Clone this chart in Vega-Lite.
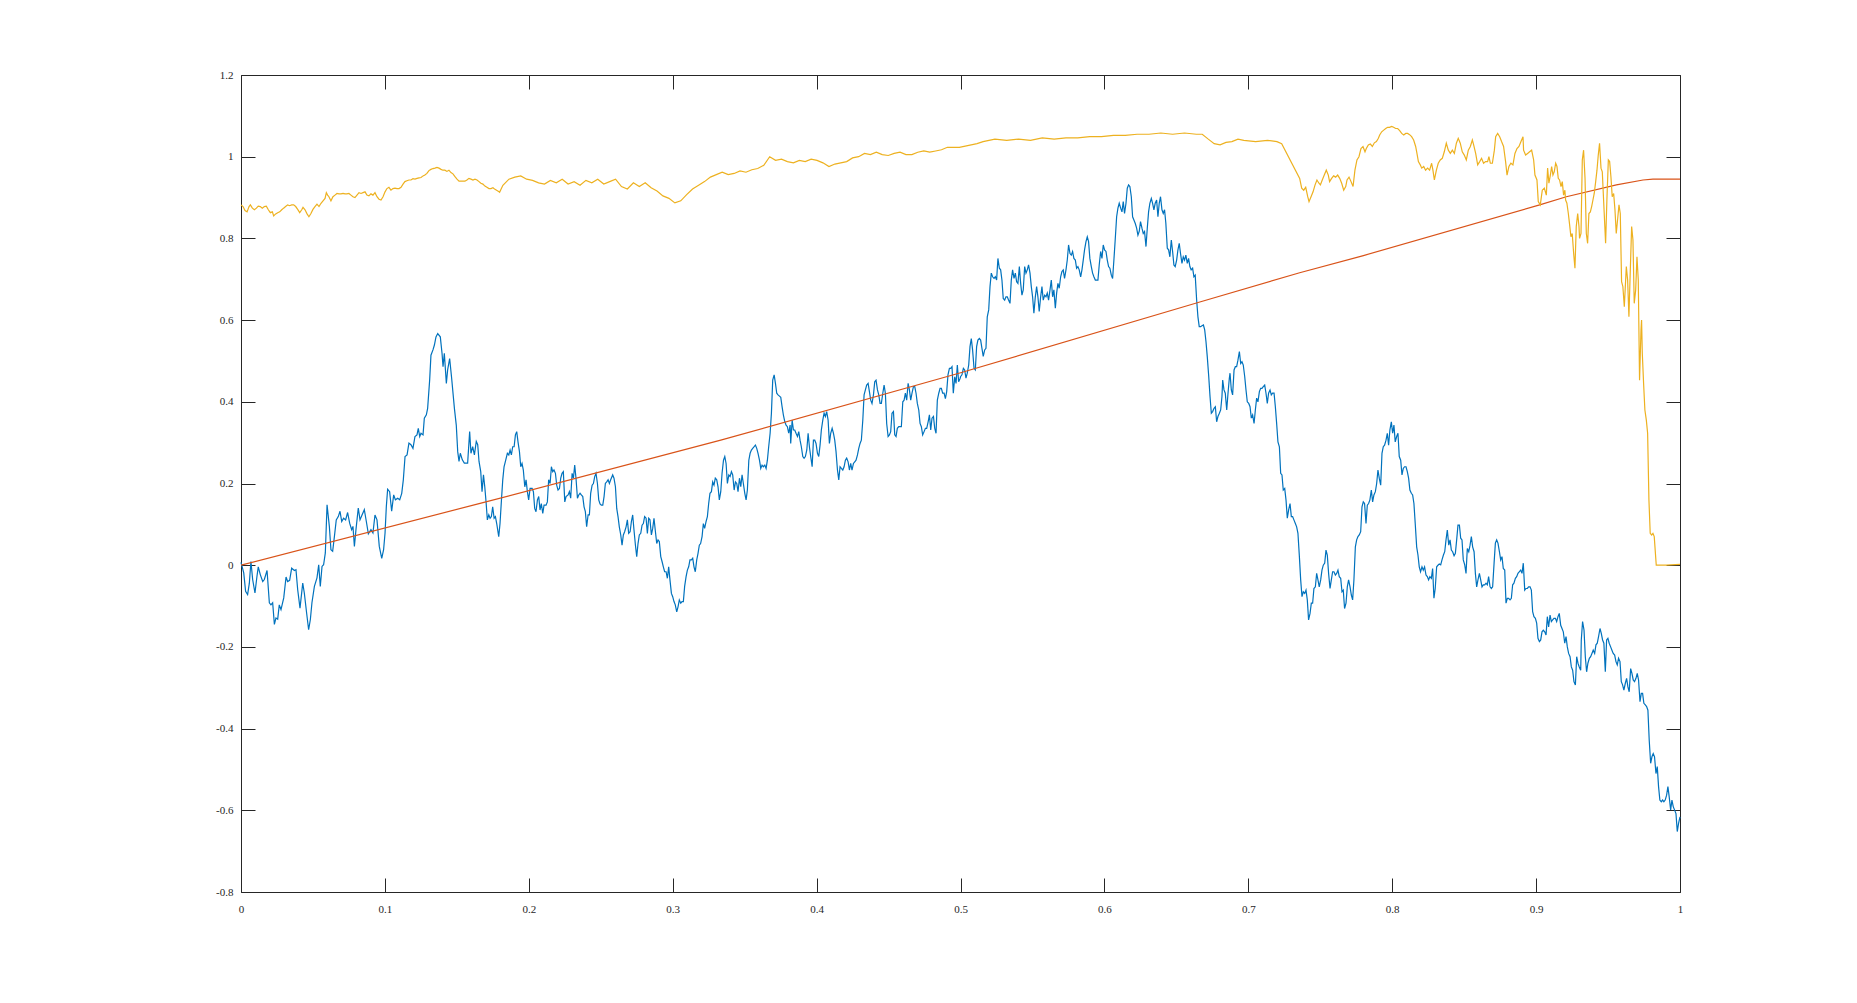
{
"$schema": "https://vega.github.io/schema/vega-lite/v6.json",
"width": 1439, "height": 817,
"autosize": {"type": "none"},
"padding": {"left": 241, "top": 75, "right": 177, "bottom": 111},
"background": "white",
"config": {"view": {"stroke": null},
 "axis": {"grid": false, "title": null, "domainColor": "#262626", "domainWidth": 1, "tickColor": "#262626", "tickWidth": 1, "tickSize": -14, "labelColor": "#262626", "labelFont": "Liberation Serif", "labelFontSize": 11, "labelFlush": false, "labelExpr": "'' + datum.value"}},
"datasets": {
"w": [
{"t":0,"v":0.007},{"t":0.0019,"v":-0.019},{"t":0.0032,"v":-0.064},{"t":0.0046,"v":-0.072},{"t":0.0058,"v":-0.044},{"t":0.0069,"v":0.009},{"t":0.0081,"v":-0.035},{"t":0.0097,"v":-0.068},{"t":0.0111,"v":-0.027},{"t":0.012,"v":-0.004},{"t":0.0134,"v":-0.023},{"t":0.0151,"v":-0.04},{"t":0.0162,"v":-0.035},{"t":0.0181,"v":-0.013},{"t":0.0197,"v":-0.092},{"t":0.0208,"v":-0.097},{"t":0.022,"v":-0.092},{"t":0.0232,"v":-0.145},{"t":0.0243,"v":-0.129},{"t":0.0255,"v":-0.132},{"t":0.0266,"v":-0.097},{"t":0.0278,"v":-0.109},{"t":0.0297,"v":-0.08},{"t":0.0313,"v":-0.029},{"t":0.0324,"v":-0.04},{"t":0.0338,"v":-0.037},{"t":0.0352,"v":-0.007},{"t":0.0371,"v":-0.013},{"t":0.0382,"v":-0.011},{"t":0.0394,"v":-0.06},{"t":0.041,"v":-0.105},{"t":0.0429,"v":-0.044},{"t":0.044,"v":-0.068},{"t":0.0456,"v":-0.117},{"t":0.047,"v":-0.158},{"t":0.0482,"v":-0.133},{"t":0.0493,"v":-0.092},{"t":0.051,"v":-0.052},{"t":0.0528,"v":-0.031},{"t":0.054,"v":0.001},{"t":0.0551,"v":-0.052},{"t":0.0563,"v":-0.003},{"t":0.0574,"v":0.001},{"t":0.0586,"v":0.03},{"t":0.0598,"v":0.148},{"t":0.0614,"v":0.095},{"t":0.0625,"v":0.038},{"t":0.0637,"v":0.034},{"t":0.0649,"v":0.07},{"t":0.0662,"v":0.111},{"t":0.0676,"v":0.119},{"t":0.0688,"v":0.132},{"t":0.07,"v":0.107},{"t":0.0713,"v":0.115},{"t":0.0727,"v":0.111},{"t":0.0741,"v":0.129},{"t":0.0755,"v":0.103},{"t":0.0769,"v":0.087},{"t":0.0778,"v":0.095},{"t":0.0788,"v":0.046},{"t":0.0799,"v":0.087},{"t":0.0815,"v":0.14},{"t":0.0827,"v":0.111},{"t":0.0841,"v":0.123},{"t":0.0857,"v":0.136},{"t":0.0871,"v":0.107},{"t":0.0885,"v":0.077},{"t":0.0903,"v":0.087},{"t":0.0917,"v":0.079},{"t":0.0931,"v":0.123},{"t":0.0945,"v":0.111},{"t":0.0961,"v":0.046},{"t":0.0978,"v":0.017},{"t":0.0991,"v":0.038},{"t":0.1001,"v":0.079},{"t":0.101,"v":0.144},{"t":0.1019,"v":0.186},{"t":0.1033,"v":0.18},{"t":0.1047,"v":0.132},{"t":0.1061,"v":0.172},{"t":0.1073,"v":0.16},{"t":0.1089,"v":0.164},{"t":0.1103,"v":0.16},{"t":0.1117,"v":0.176},{"t":0.1128,"v":0.209},{"t":0.114,"v":0.266},{"t":0.1154,"v":0.27},{"t":0.1167,"v":0.299},{"t":0.1181,"v":0.295},{"t":0.1195,"v":0.286},{"t":0.1209,"v":0.315},{"t":0.1223,"v":0.319},{"t":0.1232,"v":0.335},{"t":0.1242,"v":0.315},{"t":0.1251,"v":0.323},{"t":0.1265,"v":0.319},{"t":0.1274,"v":0.36},{"t":0.1288,"v":0.368},{"t":0.1297,"v":0.384},{"t":0.1311,"v":0.453},{"t":0.132,"v":0.514},{"t":0.1334,"v":0.527},{"t":0.1344,"v":0.539},{"t":0.1355,"v":0.559},{"t":0.1367,"v":0.567},{"t":0.1385,"v":0.559},{"t":0.1397,"v":0.519},{"t":0.1404,"v":0.486},{"t":0.1413,"v":0.519},{"t":0.1427,"v":0.445},{"t":0.1436,"v":0.478},{"t":0.145,"v":0.506},{"t":0.1464,"v":0.457},{"t":0.1483,"v":0.384},{"t":0.1496,"v":0.343},{"t":0.1506,"v":0.278},{"t":0.1515,"v":0.254},{"t":0.1524,"v":0.274},{"t":0.1538,"v":0.258},{"t":0.1552,"v":0.25},{"t":0.1575,"v":0.25},{"t":0.1589,"v":0.327},{"t":0.1598,"v":0.274},{"t":0.161,"v":0.29},{"t":0.1622,"v":0.27},{"t":0.1635,"v":0.303},{"t":0.1645,"v":0.295},{"t":0.1654,"v":0.254},
{"t":0.1666,"v":0.229},{"t":0.1675,"v":0.18},{"t":0.1685,"v":0.221},{"t":0.1694,"v":0.192},{"t":0.1703,"v":0.155},{"t":0.1712,"v":0.111},{"t":0.1722,"v":0.123},{"t":0.1731,"v":0.115},{"t":0.174,"v":0.119},{"t":0.1749,"v":0.143},{"t":0.1759,"v":0.115},{"t":0.1768,"v":0.119},{"t":0.1777,"v":0.102},{"t":0.1791,"v":0.07},{"t":0.18,"v":0.102},{"t":0.181,"v":0.16},{"t":0.1819,"v":0.209},{"t":0.1828,"v":0.241},{"t":0.184,"v":0.258},{"t":0.1851,"v":0.274},{"t":0.1861,"v":0.27},{"t":0.187,"v":0.282},{"t":0.1879,"v":0.27},{"t":0.1888,"v":0.29},{"t":0.1898,"v":0.29},{"t":0.1907,"v":0.319},{"t":0.1916,"v":0.327},{"t":0.1925,"v":0.302},{"t":0.1935,"v":0.278},{"t":0.1944,"v":0.241},{"t":0.1953,"v":0.249},{"t":0.1962,"v":0.233},{"t":0.1972,"v":0.192},{"t":0.1981,"v":0.209},{"t":0.199,"v":0.18},{"t":0.1999,"v":0.16},{"t":0.2009,"v":0.188},{"t":0.2023,"v":0.188},{"t":0.2032,"v":0.18},{"t":0.2041,"v":0.139},{"t":0.205,"v":0.131},{"t":0.206,"v":0.16},{"t":0.2069,"v":0.168},{"t":0.2078,"v":0.135},{"t":0.2087,"v":0.151},{"t":0.2097,"v":0.127},{"t":0.2106,"v":0.147},{"t":0.212,"v":0.147},{"t":0.2129,"v":0.155},{"t":0.2138,"v":0.209},{"t":0.2148,"v":0.2},{"t":0.2157,"v":0.241},{"t":0.2166,"v":0.229},{"t":0.2175,"v":0.233},{"t":0.2185,"v":0.225},{"t":0.2194,"v":0.196},{"t":0.2203,"v":0.184},{"t":0.2213,"v":0.188},{"t":0.2222,"v":0.213},{"t":0.2231,"v":0.225},{"t":0.224,"v":0.229},{"t":0.225,"v":0.155},{"t":0.2259,"v":0.168},{"t":0.2273,"v":0.172},{"t":0.2282,"v":0.18},{"t":0.2291,"v":0.164},{"t":0.2301,"v":0.225},{"t":0.231,"v":0.213},{"t":0.2319,"v":0.245},{"t":0.2328,"v":0.213},{"t":0.2338,"v":0.164},{"t":0.2347,"v":0.172},{"t":0.2356,"v":0.176},{"t":0.2365,"v":0.172},{"t":0.2375,"v":0.168},{"t":0.2384,"v":0.143},{"t":0.2393,"v":0.131},{"t":0.2402,"v":0.094},{"t":0.2412,"v":0.123},{"t":0.2421,"v":0.123},{"t":0.243,"v":0.176},{"t":0.244,"v":0.196},{"t":0.2449,"v":0.2},{"t":0.2458,"v":0.217},{"t":0.2467,"v":0.225},{"t":0.2477,"v":0.2},{"t":0.2486,"v":0.16},{"t":0.2495,"v":0.15},{"t":0.2504,"v":0.147},{"t":0.2514,"v":0.147},{"t":0.2523,"v":0.168},{"t":0.2532,"v":0.2},{"t":0.2541,"v":0.204},{"t":0.2551,"v":0.209},{"t":0.256,"v":0.2},{"t":0.2569,"v":0.209},{"t":0.2583,"v":0.221},{"t":0.2592,"v":0.213},{"t":0.2602,"v":0.192},{"t":0.2611,"v":0.139},{"t":0.262,"v":0.119},{"t":0.2629,"v":0.094},{"t":0.2639,"v":0.074},{"t":0.2648,"v":0.049},{"t":0.2657,"v":0.074},{"t":0.2666,"v":0.082},{"t":0.2676,"v":0.094},{"t":0.2685,"v":0.111},{"t":0.2694,"v":0.078},{"t":0.2704,"v":0.082},{"t":0.2713,"v":0.107},{"t":0.2722,"v":0.123},{"t":0.2731,"v":0.086},{"t":0.2741,"v":0.049},{"t":0.275,"v":0.021},{"t":0.2759,"v":0.053},{"t":0.2768,"v":0.074},{"t":0.2778,"v":0.078},{"t":0.2787,"v":0.098},{"t":0.2796,"v":0.102},{"t":0.2805,"v":0.119},{"t":0.2815,"v":0.115},{"t":0.2824,"v":0.078},{"t":0.2833,"v":0.115},{"t":0.2842,"v":0.111},{"t":0.2852,"v":0.074},{"t":0.2861,"v":0.09},{"t":0.287,"v":0.115},{"t":0.288,"v":0.082},{"t":0.2889,"v":0.053},{"t":0.2898,"v":0.062},{"t":0.2907,"v":0.058},{"t":0.2917,"v":0.021},{"t":0.2926,"v":0.009},{"t":0.2935,"v":-0.004},{"t":0.2944,"v":-0.016},{"t":0.2954,"v":-0.016},{"t":0.2963,"v":-0.032},{"t":0.2972,"v":-0.004},{"t":0.2981,"v":-0.036},{"t":0.2991,"v":-0.069},{"t":0.3,"v":-0.077},{"t":0.3009,"v":-0.089},{"t":0.3018,"v":-0.097},{"t":0.3028,"v":-0.114},{"t":0.3037,"v":-0.102},{"t":0.3046,"v":-0.085},{"t":0.3056,"v":-0.093},{"t":0.3065,"v":-0.089},{"t":0.3074,"v":-0.089},{"t":0.3083,"v":-0.052},{"t":0.3093,"v":-0.028},{"t":0.3102,"v":-0.012},{"t":0.3111,"v":-0.004},{"t":0.312,"v":0.013},{"t":0.313,"v":0.013},{"t":0.3139,"v":0.017},{"t":0.3148,"v":-0.004},{"t":0.3157,"v":-0.016},{"t":0.3167,"v":0.013},{"t":0.3176,"v":0.029},{"t":0.3185,"v":0.049},{"t":0.3194,"v":0.053},{"t":0.3204,"v":0.07},{"t":0.3213,"v":0.102},{"t":0.3222,"v":0.09},{"t":0.3232,"v":0.107},{"t":0.3241,"v":0.119},{"t":0.325,"v":0.151},{"t":0.3259,"v":0.176},{"t":0.3269,"v":0.18},{"t":0.3278,"v":0.204},{"t":0.3287,"v":0.196},{"t":0.3296,"v":0.213},{"t":0.3306,"v":0.209},{"t":0.3315,"v":0.192},{"t":0.3324,"v":0.16},
{"t":0.3334,"v":0.18},{"t":0.3343,"v":0.225},{"t":0.3353,"v":0.257},{"t":0.3362,"v":0.266},{"t":0.3371,"v":0.249},{"t":0.338,"v":0.2},{"t":0.339,"v":0.221},{"t":0.3399,"v":0.217},{"t":0.3408,"v":0.229},{"t":0.3417,"v":0.221},{"t":0.3427,"v":0.184},{"t":0.3436,"v":0.204},{"t":0.3445,"v":0.2},{"t":0.3454,"v":0.18},{"t":0.3464,"v":0.213},{"t":0.3473,"v":0.192},{"t":0.3482,"v":0.221},{"t":0.3491,"v":0.2},{"t":0.3501,"v":0.176},{"t":0.351,"v":0.16},{"t":0.3519,"v":0.184},{"t":0.3529,"v":0.257},{"t":0.3538,"v":0.274},{"t":0.3547,"v":0.282},{"t":0.3556,"v":0.286},{"t":0.3566,"v":0.29},{"t":0.3575,"v":0.294},{"t":0.3584,"v":0.286},{"t":0.3593,"v":0.274},{"t":0.3603,"v":0.257},{"t":0.3612,"v":0.237},{"t":0.3621,"v":0.245},{"t":0.363,"v":0.241},{"t":0.364,"v":0.245},{"t":0.3649,"v":0.237},{"t":0.3658,"v":0.257},{"t":0.3667,"v":0.29},{"t":0.3677,"v":0.323},{"t":0.3686,"v":0.372},{"t":0.3695,"v":0.453},{"t":0.3705,"v":0.466},{"t":0.3714,"v":0.445},{"t":0.3723,"v":0.421},{"t":0.3732,"v":0.417},{"t":0.3742,"v":0.414},{"t":0.3751,"v":0.411},{"t":0.376,"v":0.388},{"t":0.3769,"v":0.368},{"t":0.3779,"v":0.351},{"t":0.3788,"v":0.343},{"t":0.3797,"v":0.339},{"t":0.3806,"v":0.323},{"t":0.3816,"v":0.343},{"t":0.382,"v":0.298},{"t":0.383,"v":0.355},{"t":0.3839,"v":0.331},{"t":0.3848,"v":0.331},{"t":0.3857,"v":0.323},{"t":0.3867,"v":0.315},{"t":0.3876,"v":0.327},{"t":0.3885,"v":0.306},{"t":0.3894,"v":0.29},{"t":0.3904,"v":0.266},{"t":0.3913,"v":0.262},{"t":0.3922,"v":0.266},{"t":0.3932,"v":0.282},{"t":0.3941,"v":0.323},{"t":0.395,"v":0.29},{"t":0.3959,"v":0.266},{"t":0.3969,"v":0.241},{"t":0.3978,"v":0.306},{"t":0.3987,"v":0.306},{"t":0.3996,"v":0.298},{"t":0.4006,"v":0.274},{"t":0.4015,"v":0.266},{"t":0.4024,"v":0.294},{"t":0.4033,"v":0.331},{"t":0.4043,"v":0.355},{"t":0.4052,"v":0.372},{"t":0.4061,"v":0.364},{"t":0.407,"v":0.376},{"t":0.408,"v":0.355},{"t":0.4089,"v":0.298},{"t":0.4098,"v":0.323},{"t":0.4108,"v":0.335},{"t":0.4117,"v":0.323},{"t":0.4126,"v":0.306},{"t":0.4135,"v":0.278},{"t":0.4145,"v":0.233},{"t":0.4154,"v":0.209},{"t":0.4163,"v":0.241},{"t":0.4172,"v":0.237},{"t":0.4182,"v":0.233},{"t":0.4191,"v":0.241},{"t":0.42,"v":0.257},{"t":0.4209,"v":0.262},{"t":0.4219,"v":0.253},{"t":0.4228,"v":0.233},{"t":0.4237,"v":0.249},{"t":0.4246,"v":0.233},{"t":0.4256,"v":0.249},{"t":0.4265,"v":0.253},{"t":0.4274,"v":0.257},{"t":0.4284,"v":0.27},{"t":0.4293,"v":0.286},{"t":0.4302,"v":0.298},{"t":0.4311,"v":0.306},{"t":0.4321,"v":0.355},{"t":0.433,"v":0.417},{"t":0.4339,"v":0.429},{"t":0.4348,"v":0.441},{"t":0.4358,"v":0.445},{"t":0.4367,"v":0.425},{"t":0.4376,"v":0.404},{"t":0.4385,"v":0.396},{"t":0.4395,"v":0.417},{"t":0.4404,"v":0.449},{"t":0.4413,"v":0.453},{"t":0.4423,"v":0.429},{"t":0.4432,"v":0.417},{"t":0.4441,"v":0.396},{"t":0.445,"v":0.396},{"t":0.446,"v":0.421},{"t":0.4469,"v":0.441},{"t":0.4478,"v":0.421},{"t":0.4487,"v":0.347},{"t":0.4497,"v":0.315},{"t":0.4506,"v":0.319},{"t":0.4515,"v":0.327},{"t":0.4524,"v":0.372},{"t":0.4534,"v":0.376},{"t":0.4543,"v":0.319},{"t":0.4552,"v":0.315},{"t":0.4561,"v":0.335},{"t":0.4571,"v":0.339},{"t":0.458,"v":0.339},{"t":0.4589,"v":0.339},{"t":0.4599,"v":0.4},{"t":0.4608,"v":0.404},{"t":0.4617,"v":0.421},{"t":0.4626,"v":0.404},{"t":0.4636,"v":0.445},{"t":0.4645,"v":0.429},{"t":0.4654,"v":0.404},{"t":0.4663,"v":0.421},{"t":0.4673,"v":0.437},{"t":0.4682,"v":0.437},{"t":0.4691,"v":0.421},{"t":0.47,"v":0.396},{"t":0.471,"v":0.38},{"t":0.4719,"v":0.347},{"t":0.4728,"v":0.339},{"t":0.4737,"v":0.319},{"t":0.4747,"v":0.327},{"t":0.4756,"v":0.335},{"t":0.4765,"v":0.335},{"t":0.4775,"v":0.351},{"t":0.4784,"v":0.368},{"t":0.4793,"v":0.331},{"t":0.4802,"v":0.36},{"t":0.4812,"v":0.364},{"t":0.4821,"v":0.335},{"t":0.483,"v":0.323},{"t":0.4839,"v":0.404},{"t":0.4849,"v":0.421},{"t":0.4858,"v":0.433},{"t":0.4867,"v":0.433},{"t":0.4876,"v":0.421},{"t":0.4886,"v":0.421},{"t":0.4895,"v":0.408},{"t":0.4904,"v":0.425},{"t":0.4913,"v":0.466},{"t":0.4923,"v":0.482},{"t":0.4932,"v":0.482},{"t":0.4941,"v":0.486},{"t":0.495,"v":0.421},{"t":0.496,"v":0.461},{"t":0.4969,"v":0.445},{"t":0.4978,"v":0.49},{"t":0.4987,"v":0.449},{"t":0.4997,"v":0.457},
{"t":0.5001,"v":0.462},{"t":0.501,"v":0.466},{"t":0.502,"v":0.482},{"t":0.5029,"v":0.478},{"t":0.5038,"v":0.458},{"t":0.5047,"v":0.47},{"t":0.5057,"v":0.49},{"t":0.5066,"v":0.535},{"t":0.5075,"v":0.555},{"t":0.5084,"v":0.527},{"t":0.5094,"v":0.482},{"t":0.5103,"v":0.478},{"t":0.5112,"v":0.535},{"t":0.5121,"v":0.551},{"t":0.5131,"v":0.555},{"t":0.514,"v":0.551},{"t":0.5149,"v":0.531},{"t":0.5158,"v":0.511},{"t":0.5168,"v":0.527},{"t":0.5177,"v":0.531},{"t":0.5186,"v":0.608},{"t":0.5196,"v":0.625},{"t":0.5205,"v":0.682},{"t":0.5214,"v":0.715},{"t":0.5223,"v":0.706},{"t":0.5233,"v":0.702},{"t":0.5242,"v":0.706},{"t":0.5251,"v":0.698},{"t":0.526,"v":0.751},{"t":0.527,"v":0.727},{"t":0.5279,"v":0.723},{"t":0.5288,"v":0.698},{"t":0.5297,"v":0.653},{"t":0.5307,"v":0.649},{"t":0.5316,"v":0.657},{"t":0.5325,"v":0.657},{"t":0.5334,"v":0.649},{"t":0.5344,"v":0.641},{"t":0.5353,"v":0.698},{"t":0.5362,"v":0.723},{"t":0.5372,"v":0.702},{"t":0.5381,"v":0.715},{"t":0.539,"v":0.694},{"t":0.5399,"v":0.69},{"t":0.5409,"v":0.731},{"t":0.5418,"v":0.69},{"t":0.5427,"v":0.661},{"t":0.5436,"v":0.674},{"t":0.5446,"v":0.731},{"t":0.5455,"v":0.715},{"t":0.5464,"v":0.723},{"t":0.5473,"v":0.735},{"t":0.5483,"v":0.715},{"t":0.5492,"v":0.682},{"t":0.5501,"v":0.657},{"t":0.551,"v":0.617},{"t":0.552,"v":0.657},{"t":0.5529,"v":0.682},{"t":0.5538,"v":0.657},{"t":0.5547,"v":0.621},{"t":0.5557,"v":0.657},{"t":0.5566,"v":0.682},{"t":0.5575,"v":0.649},{"t":0.5585,"v":0.661},{"t":0.5594,"v":0.657},{"t":0.5603,"v":0.666},{"t":0.5612,"v":0.649},{"t":0.5622,"v":0.674},{"t":0.5631,"v":0.698},{"t":0.564,"v":0.657},{"t":0.5649,"v":0.674},{"t":0.5659,"v":0.629},{"t":0.5668,"v":0.666},{"t":0.5677,"v":0.69},{"t":0.5686,"v":0.678},{"t":0.5696,"v":0.706},{"t":0.5705,"v":0.719},{"t":0.5714,"v":0.723},{"t":0.5723,"v":0.702},{"t":0.5733,"v":0.723},{"t":0.5742,"v":0.747},{"t":0.5751,"v":0.784},{"t":0.5761,"v":0.763},{"t":0.577,"v":0.759},{"t":0.5779,"v":0.768},{"t":0.5788,"v":0.751},{"t":0.5798,"v":0.747},{"t":0.5807,"v":0.727},{"t":0.5816,"v":0.731},{"t":0.5825,"v":0.723},{"t":0.5835,"v":0.706},{"t":0.5844,"v":0.723},{"t":0.5853,"v":0.747},{"t":0.5862,"v":0.772},{"t":0.5872,"v":0.792},{"t":0.5881,"v":0.804},{"t":0.589,"v":0.792},{"t":0.5899,"v":0.751},{"t":0.5909,"v":0.731},{"t":0.5918,"v":0.715},{"t":0.5927,"v":0.706},{"t":0.5937,"v":0.698},{"t":0.5946,"v":0.698},{"t":0.5955,"v":0.698},{"t":0.5964,"v":0.735},{"t":0.5974,"v":0.768},{"t":0.5983,"v":0.751},{"t":0.5992,"v":0.784},{"t":0.6001,"v":0.772},{"t":0.6011,"v":0.768},{"t":0.602,"v":0.747},{"t":0.6029,"v":0.731},{"t":0.6038,"v":0.727},{"t":0.6048,"v":0.71},{"t":0.6057,"v":0.702},{"t":0.6066,"v":0.747},{"t":0.6075,"v":0.796},{"t":0.6085,"v":0.853},{"t":0.6094,"v":0.874},{"t":0.6103,"v":0.886},{"t":0.6113,"v":0.874},{"t":0.6122,"v":0.865},{"t":0.6131,"v":0.89},{"t":0.614,"v":0.861},{"t":0.615,"v":0.886},{"t":0.6159,"v":0.923},{"t":0.6168,"v":0.931},{"t":0.6177,"v":0.927},{"t":0.6187,"v":0.902},{"t":0.6196,"v":0.853},{"t":0.6205,"v":0.845},{"t":0.6214,"v":0.837},{"t":0.6224,"v":0.825},{"t":0.6233,"v":0.808},{"t":0.6242,"v":0.817},{"t":0.6251,"v":0.841},{"t":0.6261,"v":0.825},{"t":0.627,"v":0.812},{"t":0.6279,"v":0.817},{"t":0.6289,"v":0.78},{"t":0.6298,"v":0.825},{"t":0.6307,"v":0.865},{"t":0.6316,"v":0.886},{"t":0.6326,"v":0.898},{"t":0.6335,"v":0.886},{"t":0.6344,"v":0.87},{"t":0.6353,"v":0.886},{"t":0.6363,"v":0.894},{"t":0.6372,"v":0.853},{"t":0.6381,"v":0.886},{"t":0.639,"v":0.902},{"t":0.64,"v":0.87},{"t":0.6409,"v":0.861},{"t":0.6418,"v":0.87},{"t":0.6427,"v":0.837},{"t":0.6437,"v":0.776},{"t":0.6446,"v":0.772},{"t":0.6455,"v":0.755},{"t":0.6465,"v":0.796},{"t":0.6474,"v":0.768},{"t":0.6483,"v":0.735},{"t":0.6492,"v":0.731},{"t":0.6502,"v":0.747},{"t":0.6511,"v":0.772},{"t":0.652,"v":0.788},{"t":0.6529,"v":0.763},{"t":0.6539,"v":0.739},{"t":0.6548,"v":0.755},{"t":0.6557,"v":0.747},{"t":0.6566,"v":0.759},{"t":0.6576,"v":0.739},{"t":0.6585,"v":0.751},{"t":0.6594,"v":0.731},{"t":0.6603,"v":0.723},{"t":0.6613,"v":0.727},{"t":0.6622,"v":0.706},{"t":0.6631,"v":0.71},{"t":0.6641,"v":0.649},{"t":0.665,"v":0.608},{"t":0.6659,"v":0.584},
{"t":0.6669,"v":0.584},{"t":0.6678,"v":0.586},{"t":0.6688,"v":0.588},{"t":0.6697,"v":0.576},{"t":0.6706,"v":0.547},{"t":0.6715,"v":0.51},{"t":0.6725,"v":0.462},{"t":0.6734,"v":0.413},{"t":0.6743,"v":0.372},{"t":0.6752,"v":0.376},{"t":0.6762,"v":0.384},{"t":0.6771,"v":0.388},{"t":0.678,"v":0.351},{"t":0.6789,"v":0.364},{"t":0.6799,"v":0.372},{"t":0.6808,"v":0.38},{"t":0.6817,"v":0.413},{"t":0.6822,"v":0.453},{"t":0.6831,"v":0.429},{"t":0.684,"v":0.421},{"t":0.685,"v":0.38},{"t":0.6859,"v":0.421},{"t":0.6868,"v":0.457},{"t":0.6873,"v":0.47},{"t":0.6882,"v":0.429},{"t":0.6891,"v":0.417},{"t":0.6901,"v":0.478},{"t":0.691,"v":0.486},{"t":0.6919,"v":0.486},{"t":0.6928,"v":0.502},{"t":0.6938,"v":0.523},{"t":0.6947,"v":0.494},{"t":0.6956,"v":0.498},{"t":0.6965,"v":0.49},{"t":0.6975,"v":0.462},{"t":0.6984,"v":0.429},{"t":0.6993,"v":0.4},{"t":0.7003,"v":0.396},{"t":0.7012,"v":0.388},{"t":0.7021,"v":0.36},{"t":0.703,"v":0.368},{"t":0.704,"v":0.347},{"t":0.7049,"v":0.38},{"t":0.7058,"v":0.409},{"t":0.7067,"v":0.4},{"t":0.7077,"v":0.425},{"t":0.7086,"v":0.433},{"t":0.7095,"v":0.433},{"t":0.7104,"v":0.437},{"t":0.7114,"v":0.441},{"t":0.7123,"v":0.421},{"t":0.7132,"v":0.396},{"t":0.7141,"v":0.421},{"t":0.7151,"v":0.429},{"t":0.716,"v":0.417},{"t":0.7169,"v":0.421},{"t":0.7179,"v":0.421},{"t":0.7188,"v":0.388},{"t":0.7197,"v":0.347},{"t":0.7206,"v":0.302},{"t":0.7216,"v":0.29},{"t":0.7225,"v":0.225},{"t":0.7234,"v":0.221},{"t":0.7243,"v":0.184},{"t":0.7253,"v":0.188},{"t":0.7262,"v":0.16},{"t":0.7271,"v":0.115},{"t":0.728,"v":0.135},{"t":0.729,"v":0.151},{"t":0.7299,"v":0.119},{"t":0.7308,"v":0.119},{"t":0.7317,"v":0.111},{"t":0.7327,"v":0.102},{"t":0.7336,"v":0.094},{"t":0.7345,"v":0.078},{"t":0.7355,"v":0.021},{"t":0.7364,"v":-0.036},{"t":0.7373,"v":-0.077},{"t":0.7382,"v":-0.065},{"t":0.7392,"v":-0.069},{"t":0.7401,"v":-0.061},{"t":0.741,"v":-0.085},{"t":0.7419,"v":-0.134},{"t":0.7429,"v":-0.118},{"t":0.7438,"v":-0.093},{"t":0.7447,"v":-0.093},{"t":0.7456,"v":-0.057},{"t":0.7466,"v":-0.053},{"t":0.7475,"v":-0.02},{"t":0.7484,"v":-0.036},{"t":0.7493,"v":-0.053},{"t":0.7503,"v":-0.036},{"t":0.7512,"v":-0.012},{"t":0.7521,"v":0},{"t":0.7531,"v":0.005},{"t":0.754,"v":0.037},{"t":0.7549,"v":0.025},{"t":0.7558,"v":-0.02},{"t":0.7568,"v":-0.057},{"t":0.7577,"v":-0.036},{"t":0.7586,"v":-0.016},{"t":0.7595,"v":-0.016},{"t":0.7605,"v":-0.024},{"t":0.7614,"v":-0.02},{"t":0.7623,"v":-0.012},{"t":0.7632,"v":-0.028},{"t":0.7642,"v":-0.032},{"t":0.7651,"v":-0.065},{"t":0.766,"v":-0.061},{"t":0.7669,"v":-0.106},{"t":0.7679,"v":-0.093},{"t":0.7688,"v":-0.053},{"t":0.7697,"v":-0.036},{"t":0.7707,"v":-0.053},{"t":0.7716,"v":-0.073},{"t":0.7725,"v":-0.085},{"t":0.7734,"v":-0.036},{"t":0.7744,"v":0.045},{"t":0.7753,"v":0.062},{"t":0.7762,"v":0.07},{"t":0.7771,"v":0.074},{"t":0.7781,"v":0.082},{"t":0.779,"v":0.143},{"t":0.7799,"v":0.155},{"t":0.7808,"v":0.151},{"t":0.7818,"v":0.102},{"t":0.7827,"v":0.147},{"t":0.7836,"v":0.151},{"t":0.7845,"v":0.16},{"t":0.7855,"v":0.184},{"t":0.7864,"v":0.155},{"t":0.7873,"v":0.172},{"t":0.7883,"v":0.18},{"t":0.7892,"v":0.2},{"t":0.7901,"v":0.233},{"t":0.791,"v":0.213},{"t":0.792,"v":0.196},{"t":0.7929,"v":0.274},{"t":0.7938,"v":0.29},{"t":0.7947,"v":0.294},{"t":0.7957,"v":0.306},{"t":0.7966,"v":0.323},{"t":0.7975,"v":0.294},{"t":0.7984,"v":0.331},{"t":0.7994,"v":0.351},{"t":0.8003,"v":0.323},{"t":0.8012,"v":0.343},{"t":0.8021,"v":0.302},{"t":0.8031,"v":0.315},{"t":0.804,"v":0.323},{"t":0.8049,"v":0.266},{"t":0.8059,"v":0.257},{"t":0.8068,"v":0.221},{"t":0.8077,"v":0.237},{"t":0.8086,"v":0.241},{"t":0.8096,"v":0.241},{"t":0.8105,"v":0.229},{"t":0.8114,"v":0.213},{"t":0.8123,"v":0.184},{"t":0.8133,"v":0.176},{"t":0.8142,"v":0.172},{"t":0.8151,"v":0.151},{"t":0.816,"v":0.102},{"t":0.817,"v":0.045},{"t":0.8179,"v":0.025},{"t":0.8188,"v":-0.004},{"t":0.8197,"v":-0.016},{"t":0.8207,"v":-0.004},{"t":0.8216,"v":-0.012},{"t":0.8225,"v":-0.004},{"t":0.8235,"v":-0.024},{"t":0.8244,"v":-0.028},{"t":0.8253,"v":-0.036},{"t":0.8262,"v":-0.028},{"t":0.8272,"v":-0.032},{"t":0.8281,"v":-0.008},{"t":0.829,"v":-0.081},{"t":0.8299,"v":-0.057},{"t":0.8309,"v":-0.004},{"t":0.8318,"v":0},{"t":0.8327,"v":0.003},
{"t":0.8337,"v":0.001},{"t":0.8346,"v":0.013},{"t":0.8356,"v":0.025},{"t":0.8365,"v":0.033},{"t":0.8374,"v":0.062},{"t":0.8383,"v":0.086},{"t":0.8393,"v":0.049},{"t":0.8402,"v":0.062},{"t":0.8411,"v":0.037},{"t":0.842,"v":0.033},{"t":0.843,"v":0.023},{"t":0.8439,"v":0.029},{"t":0.8448,"v":0.062},{"t":0.8457,"v":0.098},{"t":0.8467,"v":0.098},{"t":0.8476,"v":0.066},{"t":0.8485,"v":0.062},{"t":0.8494,"v":0.013},{"t":0.8504,"v":0.001},{"t":0.8513,"v":-0.02},{"t":0.8522,"v":0.041},{"t":0.8532,"v":0.033},{"t":0.8541,"v":0.049},{"t":0.855,"v":0.07},{"t":0.8559,"v":0.045},{"t":0.8569,"v":0.033},{"t":0.8578,"v":-0.02},{"t":0.8587,"v":-0.053},{"t":0.8596,"v":-0.036},{"t":0.8606,"v":-0.02},{"t":0.8615,"v":-0.036},{"t":0.8624,"v":-0.053},{"t":0.8633,"v":-0.048},{"t":0.8643,"v":-0.048},{"t":0.8652,"v":-0.044},{"t":0.8661,"v":-0.048},{"t":0.867,"v":-0.028},{"t":0.868,"v":-0.053},{"t":0.8689,"v":-0.057},{"t":0.8698,"v":-0.053},{"t":0.8708,"v":0.005},{"t":0.8717,"v":0.054},{"t":0.8726,"v":0.062},{"t":0.8735,"v":0.054},{"t":0.8745,"v":0.033},{"t":0.8754,"v":0.013},{"t":0.8763,"v":0.021},{"t":0.8772,"v":-0.008},{"t":0.8782,"v":-0.012},{"t":0.8791,"v":-0.093},{"t":0.88,"v":-0.081},{"t":0.8809,"v":-0.081},{"t":0.8819,"v":-0.085},{"t":0.8828,"v":-0.081},{"t":0.8837,"v":-0.048},{"t":0.8846,"v":-0.044},{"t":0.8856,"v":-0.032},{"t":0.8865,"v":-0.028},{"t":0.8874,"v":-0.02},{"t":0.8884,"v":-0.016},{"t":0.8893,"v":-0.012},{"t":0.8902,"v":-0.02},{"t":0.8911,"v":0.005},{"t":0.8921,"v":-0.061},{"t":0.893,"v":-0.057},{"t":0.8939,"v":-0.057},{"t":0.8948,"v":-0.053},{"t":0.8958,"v":-0.053},{"t":0.8967,"v":-0.061},{"t":0.8976,"v":-0.114},{"t":0.8985,"v":-0.126},{"t":0.8995,"v":-0.13},{"t":0.9004,"v":-0.142},{"t":0.9013,"v":-0.179},{"t":0.9023,"v":-0.187},{"t":0.9032,"v":-0.183},{"t":0.9041,"v":-0.163},{"t":0.905,"v":-0.159},{"t":0.906,"v":-0.163},{"t":0.9069,"v":-0.171},{"t":0.9078,"v":-0.126},{"t":0.9087,"v":-0.151},{"t":0.9097,"v":-0.122},{"t":0.9106,"v":-0.138},{"t":0.9115,"v":-0.134},{"t":0.9124,"v":-0.13},{"t":0.9134,"v":-0.13},{"t":0.9143,"v":-0.138},{"t":0.9152,"v":-0.126},{"t":0.9161,"v":-0.118},{"t":0.9171,"v":-0.147},{"t":0.918,"v":-0.155},{"t":0.9189,"v":-0.163},{"t":0.9199,"v":-0.191},{"t":0.9208,"v":-0.175},{"t":0.9217,"v":-0.2},{"t":0.9226,"v":-0.216},{"t":0.9236,"v":-0.224},{"t":0.9245,"v":-0.249},{"t":0.9254,"v":-0.257},{"t":0.9263,"v":-0.285},{"t":0.9273,"v":-0.293},{"t":0.9282,"v":-0.224},{"t":0.9291,"v":-0.24},{"t":0.93,"v":-0.249},{"t":0.931,"v":-0.257},{"t":0.9314,"v":-0.183},{"t":0.9323,"v":-0.138},{"t":0.9333,"v":-0.159},{"t":0.9342,"v":-0.224},{"t":0.9351,"v":-0.261},{"t":0.936,"v":-0.24},{"t":0.937,"v":-0.228},{"t":0.9379,"v":-0.224},{"t":0.9388,"v":-0.216},{"t":0.9397,"v":-0.208},{"t":0.9407,"v":-0.216},{"t":0.9416,"v":-0.195},{"t":0.9425,"v":-0.191},{"t":0.9434,"v":-0.175},{"t":0.9444,"v":-0.155},{"t":0.9453,"v":-0.167},{"t":0.9462,"v":-0.183},{"t":0.9471,"v":-0.191},{"t":0.9481,"v":-0.261},{"t":0.949,"v":-0.183},{"t":0.9499,"v":-0.179},{"t":0.9508,"v":-0.191},{"t":0.9518,"v":-0.2},{"t":0.9527,"v":-0.208},{"t":0.9536,"v":-0.216},{"t":0.9546,"v":-0.22},{"t":0.9555,"v":-0.236},{"t":0.9564,"v":-0.244},{"t":0.9573,"v":-0.228},{"t":0.9583,"v":-0.236},{"t":0.9592,"v":-0.285},{"t":0.9601,"v":-0.293},{"t":0.961,"v":-0.306},{"t":0.962,"v":-0.289},{"t":0.9629,"v":-0.277},{"t":0.9638,"v":-0.298},{"t":0.9647,"v":-0.31},{"t":0.9657,"v":-0.253},{"t":0.9666,"v":-0.265},{"t":0.9675,"v":-0.281},{"t":0.9684,"v":-0.285},{"t":0.9694,"v":-0.277},{"t":0.9703,"v":-0.265},{"t":0.9712,"v":-0.281},{"t":0.9722,"v":-0.334},{"t":0.9731,"v":-0.314},{"t":0.974,"v":-0.314},{"t":0.9749,"v":-0.338},{"t":0.9759,"v":-0.342},{"t":0.9768,"v":-0.346},{"t":0.9777,"v":-0.355},{"t":0.9786,"v":-0.428},{"t":0.9796,"v":-0.485},{"t":0.9805,"v":-0.469},{"t":0.9814,"v":-0.461},{"t":0.9823,"v":-0.469},{"t":0.9833,"v":-0.51},{"t":0.9842,"v":-0.493},{"t":0.9851,"v":-0.542},{"t":0.986,"v":-0.575},{"t":0.987,"v":-0.579},{"t":0.9879,"v":-0.575},{"t":0.9888,"v":-0.579},{"t":0.9897,"v":-0.575},{"t":0.9907,"v":-0.563},{"t":0.9916,"v":-0.542},{"t":0.9925,"v":-0.567},{"t":0.9935,"v":-0.599},{"t":0.9944,"v":-0.575},{"t":0.9953,"v":-0.591},{"t":0.9962,"v":-0.599},{"t":0.9972,"v":-0.608},{"t":0.9981,"v":-0.652},{"t":0.999,"v":-0.632},{"t":1,"v":-0.616}
],
"r": [
{"t":0,"v":0},{"t":0.1668,"v":0.152},{"t":0.3334,"v":0.306},{"t":0.5001,"v":0.471},{"t":0.6669,"v":0.645},{"t":0.7357,"v":0.716},{"t":0.78,"v":0.758},{"t":0.9025,"v":0.882},{"t":0.921,"v":0.902},{"t":0.9558,"v":0.931},{"t":0.9743,"v":0.943},{"t":0.9812,"v":0.945},{"t":1,"v":0.945}
],
"y": [
{"t":0,"v":0.882},{"t":0.0014,"v":0.878},{"t":0.0028,"v":0.868},{"t":0.0042,"v":0.865},{"t":0.0056,"v":0.878},{"t":0.0065,"v":0.882},{"t":0.0079,"v":0.874},{"t":0.0093,"v":0.87},{"t":0.0107,"v":0.874},{"t":0.012,"v":0.879},{"t":0.0134,"v":0.878},{"t":0.0148,"v":0.874},{"t":0.0162,"v":0.878},{"t":0.0176,"v":0.879},{"t":0.019,"v":0.87},{"t":0.0204,"v":0.863},{"t":0.0218,"v":0.865},{"t":0.0227,"v":0.855},{"t":0.0241,"v":0.86},{"t":0.0255,"v":0.863},{"t":0.0269,"v":0.865},{"t":0.0283,"v":0.87},{"t":0.0296,"v":0.874},{"t":0.031,"v":0.878},{"t":0.0324,"v":0.882},{"t":0.0338,"v":0.88},{"t":0.0352,"v":0.882},{"t":0.0366,"v":0.882},{"t":0.038,"v":0.878},{"t":0.0394,"v":0.871},{"t":0.0408,"v":0.863},{"t":0.0422,"v":0.87},{"t":0.0431,"v":0.876},{"t":0.0445,"v":0.87},{"t":0.0459,"v":0.86},{"t":0.0472,"v":0.853},{"t":0.0486,"v":0.861},{"t":0.05,"v":0.871},{"t":0.0514,"v":0.878},{"t":0.0528,"v":0.884},{"t":0.0542,"v":0.878},{"t":0.0556,"v":0.886},{"t":0.057,"v":0.892},{"t":0.0584,"v":0.898},{"t":0.0593,"v":0.912},{"t":0.0602,"v":0.906},{"t":0.0611,"v":0.902},{"t":0.0625,"v":0.892},{"t":0.0639,"v":0.902},{"t":0.0653,"v":0.906},{"t":0.0667,"v":0.91},{"t":0.0681,"v":0.909},{"t":0.0695,"v":0.909},{"t":0.0709,"v":0.91},{"t":0.0723,"v":0.909},{"t":0.0736,"v":0.909},{"t":0.075,"v":0.91},{"t":0.0764,"v":0.906},{"t":0.0778,"v":0.902},{"t":0.0792,"v":0.9},{"t":0.0806,"v":0.906},{"t":0.082,"v":0.912},{"t":0.0834,"v":0.91},{"t":0.0848,"v":0.912},{"t":0.0862,"v":0.914},{"t":0.0875,"v":0.906},{"t":0.0889,"v":0.904},{"t":0.0903,"v":0.909},{"t":0.0917,"v":0.906},{"t":0.0931,"v":0.912},{"t":0.0945,"v":0.902},{"t":0.0959,"v":0.896},{"t":0.0973,"v":0.894},{"t":0.0987,"v":0.902},{"t":0.1001,"v":0.914},{"t":0.1014,"v":0.922},{"t":0.1028,"v":0.925},{"t":0.1042,"v":0.918},{"t":0.1056,"v":0.922},{"t":0.107,"v":0.923},{"t":0.1084,"v":0.922},{"t":0.1098,"v":0.922},{"t":0.1112,"v":0.925},{"t":0.1126,"v":0.933},{"t":0.1139,"v":0.939},{"t":0.1153,"v":0.941},{"t":0.1167,"v":0.943},{"t":0.1181,"v":0.943},{"t":0.1195,"v":0.946},{"t":0.1209,"v":0.945},{"t":0.1223,"v":0.947},{"t":0.1237,"v":0.948},{"t":0.1251,"v":0.949},{"t":0.1265,"v":0.953},{"t":0.1278,"v":0.955},{"t":0.1292,"v":0.959},{"t":0.1306,"v":0.966},{"t":0.132,"v":0.969},{"t":0.1334,"v":0.971},{"t":0.1348,"v":0.972},{"t":0.1362,"v":0.974},{"t":0.1376,"v":0.972},{"t":0.139,"v":0.969},{"t":0.1403,"v":0.967},{"t":0.1417,"v":0.967},{"t":0.1431,"v":0.964},{"t":0.1445,"v":0.967},{"t":0.1459,"v":0.961},{"t":0.1473,"v":0.958},{"t":0.1487,"v":0.951},{"t":0.1501,"v":0.945},{"t":0.1515,"v":0.94},{"t":0.1529,"v":0.94},{"t":0.1542,"v":0.94},{"t":0.1556,"v":0.94},{"t":0.157,"v":0.943},{"t":0.1584,"v":0.947},{"t":0.1598,"v":0.945},{"t":0.1612,"v":0.943},{"t":0.1626,"v":0.945},{"t":0.164,"v":0.943},{"t":0.1654,"v":0.939},{"t":0.1667,"v":0.935},{"t":0.1681,"v":0.933},{"t":0.1695,"v":0.928},{"t":0.1709,"v":0.925},{"t":0.1723,"v":0.922},{"t":0.1737,"v":0.922},{"t":0.1751,"v":0.924},{"t":0.1765,"v":0.92},{"t":0.1779,"v":0.917},{"t":0.1793,"v":0.914},{"t":0.1797,"v":0.913},
{"t":0.182,"v":0.93},{"t":0.1862,"v":0.945},{"t":0.1903,"v":0.95},{"t":0.1944,"v":0.953},{"t":0.1985,"v":0.945},{"t":0.2026,"v":0.942},{"t":0.2068,"v":0.936},{"t":0.2109,"v":0.933},{"t":0.215,"v":0.942},{"t":0.2191,"v":0.936},{"t":0.2232,"v":0.945},{"t":0.2273,"v":0.933},{"t":0.2315,"v":0.939},{"t":0.2356,"v":0.93},{"t":0.2397,"v":0.942},{"t":0.2438,"v":0.936},{"t":0.2479,"v":0.945},{"t":0.2521,"v":0.933},{"t":0.2562,"v":0.939},{"t":0.2603,"v":0.945},{"t":0.2644,"v":0.927},{"t":0.2685,"v":0.921},{"t":0.2727,"v":0.936},{"t":0.2768,"v":0.927},{"t":0.2809,"v":0.936},{"t":0.285,"v":0.924},{"t":0.2891,"v":0.916},{"t":0.2932,"v":0.904},{"t":0.2974,"v":0.898},{"t":0.3015,"v":0.887},{"t":0.3056,"v":0.892},{"t":0.3097,"v":0.907},{"t":0.3138,"v":0.921},{"t":0.318,"v":0.93},{"t":0.3221,"v":0.939},{"t":0.3262,"v":0.95},{"t":0.3303,"v":0.956},{"t":0.3344,"v":0.962},{"t":0.3386,"v":0.956},{"t":0.3427,"v":0.959},{"t":0.3468,"v":0.965},{"t":0.3509,"v":0.962},{"t":0.355,"v":0.968},{"t":0.3591,"v":0.971},{"t":0.3633,"v":0.979},{"t":0.3674,"v":1.0},{"t":0.3715,"v":0.991},{"t":0.3756,"v":0.994},{"t":0.3797,"v":0.988},{"t":0.3839,"v":0.985},{"t":0.388,"v":0.991},{"t":0.3921,"v":0.988},{"t":0.3962,"v":0.994},{"t":0.4003,"v":0.991},{"t":0.4044,"v":0.985},{"t":0.4086,"v":0.976},{"t":0.4127,"v":0.982},{"t":0.4168,"v":0.985},{"t":0.4209,"v":0.988},{"t":0.425,"v":0.997},{"t":0.4292,"v":1.0},{"t":0.4333,"v":1.008},{"t":0.4374,"v":1.005},{"t":0.4415,"v":1.011},{"t":0.4456,"v":1.005},{"t":0.4498,"v":1.003},{"t":0.4539,"v":1.008},{"t":0.458,"v":1.011},{"t":0.4621,"v":1.005},{"t":0.4662,"v":1.005},{"t":0.4703,"v":1.011},{"t":0.4745,"v":1.014},{"t":0.4786,"v":1.011},{"t":0.4827,"v":1.014},{"t":0.4868,"v":1.017},{"t":0.4909,"v":1.023},{"t":0.4992,"v":1.023},{"t":0.5033,"v":1.026},{"t":0.5074,"v":1.029},{"t":0.5115,"v":1.032},{"t":0.5157,"v":1.037},{"t":0.5198,"v":1.04},{"t":0.5239,"v":1.043},{"t":0.5321,"v":1.04},{"t":0.5404,"v":1.043},{"t":0.5486,"v":1.04},{"t":0.5568,"v":1.046},{"t":0.5651,"v":1.043},{"t":0.5733,"v":1.046},{"t":0.5815,"v":1.046},{"t":0.5898,"v":1.049},{"t":0.598,"v":1.049},{"t":0.6063,"v":1.052},{"t":0.6145,"v":1.052},{"t":0.6227,"v":1.055},{"t":0.631,"v":1.055},{"t":0.6392,"v":1.058},{"t":0.6474,"v":1.055},{"t":0.6557,"v":1.058},{"t":0.6639,"v":1.055},{"t":0.668,"v":1.055},{"t":0.6722,"v":1.043},{"t":0.6763,"v":1.032},{"t":0.6804,"v":1.029},{"t":0.6845,"v":1.035},{"t":0.6886,"v":1.037},{"t":0.6928,"v":1.043},{"t":0.6969,"v":1.04},{"t":0.7051,"v":1.037},{"t":0.7133,"v":1.04},{"t":0.7199,"v":1.037},{"t":0.7232,"v":1.032},
{"t":0.7357,"v":0.947},{"t":0.7371,"v":0.923},{"t":0.7385,"v":0.918},{"t":0.7399,"v":0.925},{"t":0.7413,"v":0.902},{"t":0.7422,"v":0.89},{"t":0.7436,"v":0.902},{"t":0.745,"v":0.914},{"t":0.7464,"v":0.931},{"t":0.7477,"v":0.943},{"t":0.7491,"v":0.935},{"t":0.7501,"v":0.931},{"t":0.7514,"v":0.943},{"t":0.7528,"v":0.955},{"t":0.7542,"v":0.967},{"t":0.7556,"v":0.955},{"t":0.7565,"v":0.939},{"t":0.7579,"v":0.947},{"t":0.7593,"v":0.953},{"t":0.7607,"v":0.95},{"t":0.7621,"v":0.955},{"t":0.7635,"v":0.947},{"t":0.7649,"v":0.935},{"t":0.7663,"v":0.918},{"t":0.7677,"v":0.927},{"t":0.7686,"v":0.943},{"t":0.77,"v":0.95},{"t":0.7714,"v":0.939},{"t":0.7728,"v":0.927},{"t":0.7741,"v":0.967},{"t":0.7755,"v":0.992},{"t":0.7769,"v":1.0},{"t":0.7783,"v":1.02},{"t":0.7797,"v":1.025},{"t":0.7811,"v":1.012},{"t":0.782,"v":1.02},{"t":0.7834,"v":1.029},{"t":0.7848,"v":1.031},{"t":0.7862,"v":1.025},{"t":0.7876,"v":1.034},{"t":0.789,"v":1.037},{"t":0.7904,"v":1.045},{"t":0.7913,"v":1.053},{"t":0.7927,"v":1.061},{"t":0.7941,"v":1.065},{"t":0.7955,"v":1.069},{"t":0.7968,"v":1.072},{"t":0.7982,"v":1.072},{"t":0.7996,"v":1.074},{"t":0.801,"v":1.072},{"t":0.8024,"v":1.069},{"t":0.8038,"v":1.069},{"t":0.8052,"v":1.064},{"t":0.8066,"v":1.057},{"t":0.808,"v":1.053},{"t":0.8094,"v":1.057},{"t":0.8107,"v":1.057},{"t":0.8121,"v":1.054},{"t":0.8135,"v":1.049},{"t":0.8149,"v":1.041},{"t":0.8163,"v":1.025},{"t":0.8172,"v":1.008},{"t":0.8182,"v":0.988},{"t":0.8195,"v":0.98},{"t":0.8205,"v":0.972},{"t":0.8219,"v":0.976},{"t":0.8232,"v":0.967},{"t":0.8246,"v":0.972},{"t":0.826,"v":0.967},{"t":0.8274,"v":0.984},{"t":0.8283,"v":0.967},{"t":0.8293,"v":0.943},{"t":0.8307,"v":0.967},{"t":0.832,"v":0.984},{"t":0.8334,"v":0.992},{"t":0.8348,"v":0.996},{"t":0.8362,"v":1.012},{"t":0.8376,"v":1.033},{"t":0.839,"v":1.016},{"t":0.8404,"v":1.008},{"t":0.8418,"v":1.016},{"t":0.8432,"v":1.008},{"t":0.8446,"v":1.033},{"t":0.8459,"v":1.045},{"t":0.8473,"v":1.033},{"t":0.8487,"v":1.012},{"t":0.8501,"v":1.004},{"t":0.8515,"v":0.992},{"t":0.8529,"v":1.016},{"t":0.8543,"v":1.025},{"t":0.8557,"v":1.041},{"t":0.8566,"v":1.029},{"t":0.858,"v":1.008},{"t":0.8594,"v":0.98},{"t":0.8608,"v":0.988},{"t":0.8621,"v":0.996},{"t":0.8635,"v":0.984},{"t":0.8649,"v":0.988},{"t":0.8663,"v":0.988},{"t":0.8672,"v":1.0},{"t":0.8682,"v":0.984},{"t":0.8696,"v":0.984},{"t":0.871,"v":1.016},{"t":0.8719,"v":1.049},{"t":0.8733,"v":1.057},{"t":0.8747,"v":1.049},{"t":0.876,"v":1.037},{"t":0.8774,"v":1.025},{"t":0.8788,"v":0.988},{"t":0.8798,"v":0.955},{"t":0.8811,"v":0.976},{"t":0.8825,"v":0.984},{"t":0.8839,"v":0.98},{"t":0.8853,"v":1.008},{"t":0.8867,"v":1.02},{"t":0.8881,"v":1.025},{"t":0.8895,"v":1.037},{"t":0.8909,"v":1.049},{"t":0.8913,"v":1.016},{"t":0.8927,"v":1.004},{"t":0.8941,"v":1.008},{"t":0.8955,"v":1.012},{"t":0.8969,"v":1.016},{"t":0.8983,"v":0.992},{"t":0.8992,"v":0.955},{"t":0.9006,"v":0.943},{"t":0.9015,"v":0.89},{"t":0.9029,"v":0.882},{"t":0.9043,"v":0.918},{"t":0.9057,"v":0.923},{"t":0.9071,"v":0.906},{"t":0.908,"v":0.972},{"t":0.9089,"v":0.935},{"t":0.9099,"v":0.955},{"t":0.9108,"v":0.976},{"t":0.9117,"v":0.955},{"t":0.9126,"v":0.963},{"t":0.9136,"v":0.984},{"t":0.9145,"v":0.976},{"t":0.9154,"v":0.947},{"t":0.9163,"v":0.943},{"t":0.9173,"v":0.927},{"t":0.9182,"v":0.939},{"t":0.9191,"v":0.906},{"t":0.92,"v":0.918},{"t":0.9205,"v":0.894},{"t":0.9214,"v":0.886},{"t":0.9224,"v":0.861},{"t":0.9233,"v":0.833},{"t":0.9242,"v":0.804},{"t":0.9251,"v":0.812},{"t":0.9261,"v":0.763},{"t":0.927,"v":0.727},{"t":0.9279,"v":0.829},{"t":0.9289,"v":0.861},{"t":0.9298,"v":0.829},{"t":0.9302,"v":0.8},{"t":0.9312,"v":0.812},{"t":0.9321,"v":0.992},{"t":0.933,"v":1.016},{"t":0.934,"v":0.947},{"t":0.9349,"v":0.812},{"t":0.9358,"v":0.788},{"t":0.9367,"v":0.861},{"t":0.9377,"v":0.865},{"t":0.9386,"v":0.878},{"t":0.9395,"v":0.894},{"t":0.9404,"v":0.91},{"t":0.9414,"v":0.939},{"t":0.9423,"v":0.967},{"t":0.9432,"v":1.004},{"t":0.9441,"v":1.033},{"t":0.9451,"v":0.972},{"t":0.946,"v":0.963},{"t":0.9469,"v":0.894},{"t":0.9483,"v":0.788},{"t":0.9492,"v":0.894},{"t":0.9502,"v":0.992},{"t":0.9511,"v":0.988},{"t":0.952,"v":0.951},{"t":0.9529,"v":0.902},{"t":0.9539,"v":0.91},{"t":0.9548,"v":0.87},{"t":0.9557,"v":0.812},{"t":0.9566,"v":0.845},{"t":0.9576,"v":0.882},{"t":0.9585,"v":0.861},{"t":0.9594,"v":0.694},{"t":0.9603,"v":0.682},{"t":0.9613,"v":0.633},{"t":0.9627,"v":0.731},{"t":0.9636,"v":0.698},{"t":0.9645,"v":0.608},{"t":0.9654,"v":0.715},{"t":0.9664,"v":0.829},{"t":0.9673,"v":0.796},{"t":0.9682,"v":0.641},{"t":0.9692,"v":0.674},{"t":0.9701,"v":0.755},{"t":0.971,"v":0.698},{"t":0.9719,"v":0.453},{"t":0.9729,"v":0.576},{"t":0.9733,"v":0.6},{"t":0.9738,"v":0.519},{"t":0.9747,"v":0.445},{"t":0.9756,"v":0.38},{"t":0.9766,"v":0.355},{"t":0.9775,"v":0.323},{"t":0.9784,"v":0.16},{"t":0.9793,"v":0.078},{"t":0.9803,"v":0.074},{"t":0.9812,"v":0.078},{"t":0.9821,"v":0.07},{"t":0.9835,"v":0},{"t":0.9905,"v":0},{"t":1,"v":0.002}
]
},
"layer": [
{"data": {"name": "w"}, "mark": {"type": "line", "color": "#0072BD", "strokeWidth": 1.2},
 "encoding": {
  "x": {"field": "t", "type": "quantitative", "scale": {"domain": [0, 1], "nice": false, "zero": false}, "axis": {"orient": "bottom", "values": [0,0.1,0.2,0.3,0.4,0.5,0.6,0.7,0.8,0.9,1], "labelPadding": 25}},
  "y": {"field": "v", "type": "quantitative", "scale": {"domain": [-0.8, 1.2], "nice": false, "zero": false}, "axis": {"orient": "left", "values": [-0.8,-0.6,-0.4,-0.2,0,0.2,0.4,0.6,0.8,1,1.2], "labelPadding": 22}}}},
{"data": {"name": "r"}, "mark": {"type": "line", "color": "#D95319", "strokeWidth": 1.2},
 "encoding": {
  "x": {"field": "t", "type": "quantitative", "axis": {"orient": "top", "values": [0,0.1,0.2,0.3,0.4,0.5,0.6,0.7,0.8,0.9,1], "labels": false}},
  "y": {"field": "v", "type": "quantitative", "axis": {"orient": "right", "values": [-0.8,-0.6,-0.4,-0.2,0,0.2,0.4,0.6,0.8,1,1.2], "labels": false}}}},
{"data": {"name": "y"}, "mark": {"type": "line", "color": "#EDB120", "strokeWidth": 1.2},
 "encoding": {
  "x": {"field": "t", "type": "quantitative", "axis": null},
  "y": {"field": "v", "type": "quantitative", "axis": null}}}
],
"resolve": {"axis": {"x": "independent", "y": "independent"}}
}
